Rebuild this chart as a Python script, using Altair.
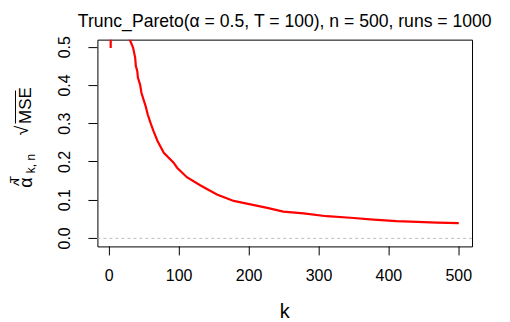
import altair as alt
import pandas as pd

# values
k_vals = [1, 2, 3, 15, 29, 34, 37, 38, 40, 41, 44, 46, 49, 52, 55, 59, 63, 69, 78,
          92, 97, 111, 130, 154, 178, 202, 226, 249, 278, 311, 345, 378, 411, 440,
          469, 500]
rmse_vals = [1.2, 0.498, 1.1, 0.75, 0.521, 0.4995, 0.473, 0.451, 0.438, 0.420, 0.403,
             0.381, 0.363, 0.346, 0.324, 0.302, 0.282, 0.255, 0.224, 0.198, 0.185,
             0.160, 0.139, 0.115, 0.098, 0.089, 0.080, 0.070, 0.0655, 0.058, 0.054,
             0.049, 0.045, 0.043, 0.041, 0.040]
x_ticks = [0, 100, 200, 300, 400, 500]
y_ticks = [0.0, 0.1, 0.2, 0.3, 0.4, 0.5]
title_text = "Trunc_Pareto(\u03b1 = 0.5, T = 100), n = 500, runs = 1000"

df = pd.DataFrame({"k": k_vals, "rmse": rmse_vals})
one = pd.DataFrame({"v": [0]})

FONT = "Liberation Sans"

x_enc = alt.X("k:Q",
              scale=alt.Scale(domain=[-17, 519], nice=False, zero=False),
              axis=alt.Axis(values=x_ticks, title="k", titleY=66, titleBaseline="middle",
                            titleFontSize=20, titleFontWeight="normal", titleFont=FONT,
                            titleColor="black", labelFontSize=16, labelFont=FONT,
                            labelColor="black", labelPadding=13, tickSize=9,
                            tickColor="black", domain=False, grid=False, labelFlush=False))
y_enc = alt.Y("rmse:Q",
              scale=alt.Scale(domain=[-0.021, 0.52], nice=False, zero=False),
              axis=alt.Axis(values=y_ticks, format=".1f", title=None, labelAngle=-90,
                            labelAlign="center", labelBaseline="bottom",
                            labelFontSize=16, labelFont=FONT, labelColor="black",
                            labelPadding=15, tickSize=9, tickColor="black",
                            domain=False, grid=False, labelFlush=False))

line = alt.Chart(df).mark_line(color="#FF0000", strokeWidth=2.2, clip=True).encode(
    x=x_enc, y=y_enc)

zero_rule = alt.Chart(one).mark_rule(color="#BEBEBE", strokeDash=[3, 3], strokeWidth=1).encode(
    y=alt.datum(0))

def txt(s, x, y, size):
    return alt.Chart(one).mark_text(angle=270, align="center", baseline="middle",
                                    font=FONT, fontSize=size, color="black").encode(
        x=alt.value(x), y=alt.value(y), text=alt.value(s))

ylab = [
    txt("\u03b1", -70, 143, 18),
    txt("^", -78, 143, 15),
    txt("T", -82, 140, 12),
    txt("k, n", -66, 124, 12),
    txt("MSE", -71.5, 66, 17),
    txt("\u221a", -74, 91, 18),
]
overline = alt.Chart(one).mark_rule(color="black", strokeWidth=1).encode(
    x=alt.value(-82), y=alt.value(51), y2=alt.value(84))

chart = alt.layer(zero_rule, line, *ylab, overline).properties(
    width=375, height=207,
    title=alt.TitleParams(title_text, fontSize=17.6, font=FONT, fontWeight="normal",
                          color="black", anchor="middle", offset=6),
    autosize=alt.AutoSizeParams(type="none"),
    padding={"left": 89.5, "top": 31.5, "right": 30, "bottom": 75},
).configure(background="white").configure_view(stroke="black", strokeWidth=1
).configure_axis(translate=0)

chart.save("out.html", embed_options={"renderer": "svg", "actions": False})
